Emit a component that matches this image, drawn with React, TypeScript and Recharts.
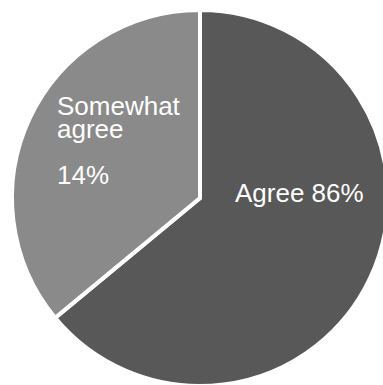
import React from 'react';
import { PieChart, Pie, Cell } from 'recharts';

const CATEGORIES = ['Agree', 'Somewhat agree'];
const VALUES = [64, 36];
const LABEL_LINES = [['Agree 86%'], ['Somewhat', 'agree', '', '14%']];
const COLORS = ['#585858', '#8a8a8a'];

const LABEL_OFFSETS = [
  { dx: 35, dy: 4 },
  { dx: -143, dy: -83 },
];

const data = CATEGORIES.map((name, i) => ({ name, value: VALUES[i] }));

const renderLabel = (props: any) => {
  const { cx, cy, index } = props;
  const off = LABEL_OFFSETS[index];
  return (
    <text
      x={cx + off.dx}
      y={cy + off.dy}
      fill="#ffffff"
      fontSize={26}
      fontFamily="'Liberation Sans', Arial, sans-serif"
      textAnchor="start"
    >
      {LABEL_LINES[index].map((line, i) => (
        <tspan key={i} x={cx + off.dx} dy={i === 0 ? 0 : 23}>
          {line || ' '}
        </tspan>
      ))}
    </text>
  );
};

export default function App() {
  return (
    <div style={{ position: 'absolute', left: 0, top: 0, background: '#fff' }}>
      <PieChart width={383} height={385} margin={{ top: 0, right: 0, bottom: 0, left: 0 }}>
        <Pie
          data={data}
          dataKey="value"
          nameKey="name"
          cx={200}
          cy={198}
          outerRadius={188}
          startAngle={90}
          endAngle={-270}
          stroke="#ffffff"
          strokeWidth={4}
          label={renderLabel}
          labelLine={false}
          isAnimationActive={false}
        >
          {data.map((entry, index) => (
            <Cell key={`cell-${index}`} fill={COLORS[index]} />
          ))}
        </Pie>
      </PieChart>
    </div>
  );
}
